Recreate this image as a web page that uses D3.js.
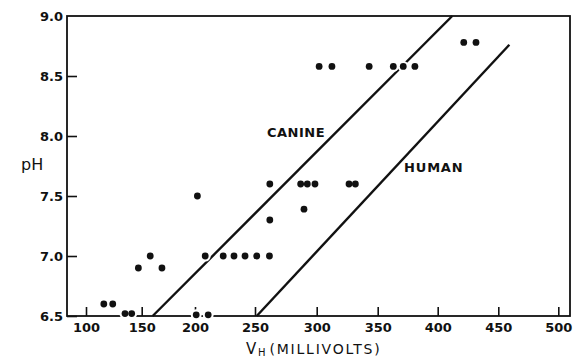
<!DOCTYPE html>
<html>
<head>
<meta charset="utf-8">
<script src="https://cdn.jsdelivr.net/npm/d3@7"></script>
<style>
  body { margin: 0; background: #fff; }
  text { font-family: "DejaVu Sans", sans-serif; fill: #111; }
</style>
</head>
<body>
<div id="chart"></div>
<script>
// measured points (V_H in millivolts, pH)
const vh = [116, 124, 135, 141, 147, 158, 169, 201, 211, 202, 208.5,
            223.5, 232.5, 241.7, 251.4, 261.7, 262, 262,
            287, 292.4, 298.6, 289.7, 326.5, 331.7,
            302, 312.5, 343, 363, 371.3, 381, 421.5, 431.6];
const ph = [6.6, 6.6, 6.52, 6.52, 6.9, 7.0, 6.9, 6.51, 6.51, 7.5, 7.0,
            7.0, 7.0, 7.0, 7.0, 7.0, 7.3, 7.6,
            7.6, 7.6, 7.6, 7.39, 7.6, 7.6,
            8.58, 8.58, 8.58, 8.58, 8.58, 8.58, 8.78, 8.78];

// fitted lines, end points
const canineVh = [160.3, 412];
const caninePh = [6.5, 9.0];
const humanVh = [251.4, 459.2];
const humanPh = [6.5, 8.76];

const xTicks = [100, 150, 200, 250, 300, 350, 400, 450, 500];
const yTicks = [6.5, 7.0, 7.5, 8.0, 8.5, 9.0];

const W = 575, H = 357;
const frame = {left: 67, top: 16, right: 570, bottom: 316};

const svg = d3.select("#chart").append("svg")
    .attr("width", W)
    .attr("height", H);

// the printed axis is hand-lettered and not evenly spaced at the low end
const x = d3.scaleLinear()
    .domain([83].concat(xTicks, [510]))
    .range([frame.left, 86, 141.7, 195, 255, 316.7, 377.7, 437.7, 498.3, 558.3, frame.right]);

const y = d3.scaleLinear()
    .domain([6.5, 9.0])
    .range([frame.bottom, frame.top]);

// frame
svg.append("rect")
    .attr("x", frame.left)
    .attr("y", frame.top)
    .attr("width", frame.right - frame.left)
    .attr("height", frame.bottom - frame.top)
    .attr("fill", "none")
    .attr("stroke", "#111")
    .attr("stroke-width", 1.8);

// axes, ticks pointing inward
const xAxis = svg.append("g")
    .attr("transform", "translate(0," + frame.bottom + ")")
    .call(d3.axisBottom(x).tickValues(xTicks).tickSize(-9).tickPadding(7).tickFormat(d3.format("d")));

const yAxis = svg.append("g")
    .attr("transform", "translate(" + frame.left + ",0)")
    .call(d3.axisLeft(y).tickValues(yTicks).tickSize(-10).tickPadding(4).tickFormat(d3.format(".1f")));

[xAxis, yAxis].forEach(g => {
    g.select(".domain").remove();
    g.selectAll(".tick line").attr("stroke", "#111").attr("stroke-width", 1.6);
    g.selectAll(".tick text")
        .style("font-family", "DejaVu Sans, sans-serif")
        .style("font-size", "13px")
        .style("font-weight", "bold")
        .attr("fill", "#111");
});
yAxis.selectAll(".tick").filter(d => d === 9.0).select("line").remove();

// fitted lines
const line = d3.line()
    .x(d => x(d[0]))
    .y(d => y(d[1]));

[[canineVh, caninePh], [humanVh, humanPh]].forEach(([xs, ys]) => {
    svg.append("path")
        .datum(d3.zip(xs, ys))
        .attr("fill", "none")
        .attr("stroke", "#111")
        .attr("stroke-width", 2.4)
        .attr("d", line);
});

// points: white halo first, so lines and axis break around the dots
const pts = d3.zip(vh, ph);
svg.append("g").selectAll("circle")
    .data(pts)
    .enter().append("circle")
    .attr("cx", d => x(d[0]))
    .attr("cy", d => y(d[1]))
    .attr("r", 5.5)
    .attr("fill", "#fff");

svg.append("g").selectAll("circle")
    .data(pts)
    .enter().append("circle")
    .attr("cx", d => x(d[0]))
    .attr("cy", d => y(d[1]))
    .attr("r", 3.4)
    .attr("fill", "#111");

// line labels
svg.append("text")
    .attr("x", x(259.7))
    .attr("y", y(7.99))
    .style("font-size", "13px")
    .style("font-weight", "bold")
    .style("letter-spacing", "0.5px")
    .text("CANINE");

svg.append("text")
    .attr("x", x(372))
    .attr("y", y(7.7))
    .style("font-size", "13px")
    .style("font-weight", "bold")
    .style("letter-spacing", "0.8px")
    .text("HUMAN");

// axis titles
svg.append("text")
    .attr("x", 21)
    .attr("y", 170)
    .style("font-size", "16px")
    .text("pH");

const xt = svg.append("text")
    .attr("x", 246)
    .attr("y", 354)
    .style("font-size", "14px")
    .style("letter-spacing", "1.8px");
xt.append("tspan").style("font-size", "15px").text("V");
xt.append("tspan").attr("dy", 2).style("font-size", "10px").text("H");
xt.append("tspan").attr("dy", -2).attr("dx", 2).text("(MILLIVOLTS)");
</script>
</body>
</html>
